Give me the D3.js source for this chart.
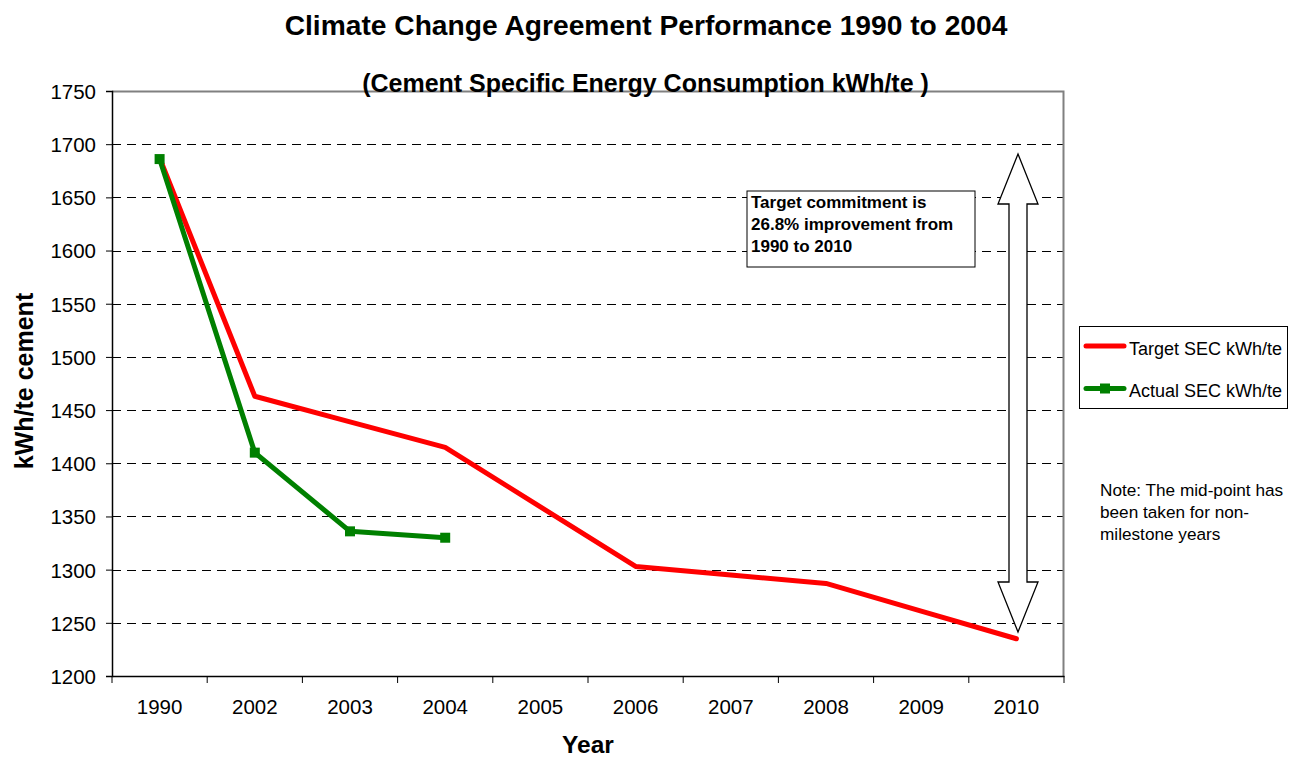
<!DOCTYPE html>
<html>
<head>
<meta charset="utf-8">
<script src="https://cdn.jsdelivr.net/npm/d3@7"></script>
<style>
  body { margin: 0; background: #fff; }
  svg { font-family: "Liberation Sans", Arial, sans-serif; }
</style>
</head>
<body>
<svg id="chart" width="1294" height="757"></svg>
<script>
const years = ["1990", "2002", "2003", "2004", "2005", "2006", "2007", "2008", "2009", "2010"];
const targetSEC = [1687, 1463, 1439, 1415, 1359, 1303, 1295, 1287, 1261, 1235];
const actualSEC = [1686, 1410, 1336, 1330];
const yTicks = [1200, 1250, 1300, 1350, 1400, 1450, 1500, 1550, 1600, 1650, 1700, 1750];

const svg = d3.select("#chart");
const margin = { top: 91, left: 112, right: 1294 - 1064, bottom: 757 - 676 };
const width = 1294 - margin.left - margin.right;
const height = 757 - margin.top - margin.bottom;

const x = d3.scaleBand().domain(years).range([0, width]);
const y = d3.scaleLinear().domain([1200, 1750]).range([height, 0]);

const g = svg.append("g").attr("transform", `translate(${margin.left},${margin.top})`);

// gridlines
g.selectAll("line.grid")
  .data(yTicks.filter((d) => d > 1200 && d < 1750))
  .enter()
  .append("line")
  .attr("x1", 0)
  .attr("x2", width)
  .attr("y1", (d) => Math.round(y(d)) + 0.5)
  .attr("y2", (d) => Math.round(y(d)) + 0.5)
  .style("stroke", "#000")
  .style("stroke-dasharray", "9,6");

// plot border top/right
g.append("path")
  .attr("d", `M0,0.5H${width - 0.5}V${height}`)
  .style("fill", "none")
  .style("stroke", "#808080")
  .style("stroke-width", 2);

// axes
const yAxis = g.append("g")
  .call(d3.axisLeft(y).tickValues(yTicks).tickFormat(d3.format("d")).tickSize(6).tickPadding(10));
const xAxis = g.append("g")
  .attr("transform", `translate(0,${height})`)
  .call(d3.axisBottom(x).tickSize(0).tickPadding(23));

xAxis.selectAll("line.sep")
  .data(years.concat(["end"]))
  .enter()
  .append("line")
  .attr("x1", (d, i) => i * x.bandwidth())
  .attr("x2", (d, i) => i * x.bandwidth())
  .attr("y1", 0)
  .attr("y2", 7)
  .style("stroke", "#000");

[yAxis, xAxis].forEach((ax) => {
  ax.select(".domain").style("stroke", "#000").style("stroke-width", 1.5);
  ax.selectAll(".tick line").style("stroke", "#000");
  ax.selectAll(".tick text")
    .style("font-size", "20.5px")
    .style("fill", "#000")
    .style("font-family", "Liberation Sans, Arial, sans-serif");
});
yAxis.selectAll(".tick text").attr("dy", "0.36em");

const cx = (i) => x(years[i]) + x.bandwidth() / 2;

const line = d3.line()
  .x((d, i) => cx(i))
  .y((d) => y(d));

g.append("path")
  .datum(targetSEC)
  .attr("d", line)
  .style("fill", "none")
  .style("stroke", "#ff0000")
  .style("stroke-width", 5)
  .style("stroke-linejoin", "round")
  .style("stroke-linecap", "round");

g.append("path")
  .datum(actualSEC)
  .attr("d", line)
  .style("fill", "none")
  .style("stroke", "#008000")
  .style("stroke-width", 5)
  .style("stroke-linejoin", "round");

g.selectAll("rect.marker")
  .data(actualSEC)
  .enter()
  .append("rect")
  .attr("x", (d, i) => cx(i) - 5)
  .attr("y", (d) => y(d) - 5)
  .attr("width", 10)
  .attr("height", 10)
  .style("fill", "#008000");

// double headed hollow arrow
const arrowX = 1018 - margin.left;
const arrowTop = 154 - margin.top, arrowBot = 632 - margin.top;
const headH = 50, headW = 20, shaftW = 9;
const arrowPts = [
  [arrowX, arrowTop], [arrowX + headW, arrowTop + headH], [arrowX + shaftW, arrowTop + headH],
  [arrowX + shaftW, arrowBot - headH], [arrowX + headW, arrowBot - headH], [arrowX, arrowBot],
  [arrowX - headW, arrowBot - headH], [arrowX - shaftW, arrowBot - headH],
  [arrowX - shaftW, arrowTop + headH], [arrowX - headW, arrowTop + headH]
];
g.append("path")
  .attr("d", d3.line()(arrowPts) + "Z")
  .style("fill", "#fff")
  .style("stroke", "#000")
  .style("stroke-width", 1.3);

// annotation box
svg.append("rect")
  .attr("x", 747).attr("y", 191).attr("width", 228).attr("height", 76)
  .style("fill", "#fff").style("stroke", "#000").style("stroke-width", 1);
const boxLines = ["Target commitment is", "26.8% improvement from", "1990 to 2010"];
svg.selectAll("text.box")
  .data(boxLines)
  .enter()
  .append("text")
  .attr("x", 751)
  .attr("y", (d, i) => 208 + i * 22)
  .style("font-size", "17px")
  .style("font-weight", "bold")
  .text((d) => d);

// titles
svg.append("text")
  .attr("x", 646).attr("y", 34.5)
  .attr("text-anchor", "middle")
  .style("font-size", "28.2px").style("font-weight", "bold")
  .text("Climate Change Agreement Performance 1990 to 2004");
svg.append("text")
  .attr("x", 645.5).attr("y", 91.5)
  .attr("text-anchor", "middle")
  .style("font-size", "25px").style("font-weight", "bold")
  .text("(Cement Specific Energy Consumption kWh/te )");
svg.append("text")
  .attr("transform", "translate(33,381) rotate(-90)")
  .attr("text-anchor", "middle")
  .style("font-size", "25px").style("font-weight", "bold")
  .text("kWh/te cement");
svg.append("text")
  .attr("x", 588).attr("y", 753)
  .attr("text-anchor", "middle")
  .style("font-size", "24.5px").style("font-weight", "bold")
  .text("Year");

// legend
const legend = svg.append("g");
legend.append("rect")
  .attr("x", 1079.5).attr("y", 326.5).attr("width", 208).attr("height", 82)
  .style("fill", "#fff").style("stroke", "#000");
const legendItems = [
  { label: "Target SEC kWh/te", color: "#ff0000", marker: false },
  { label: "Actual SEC kWh/te", color: "#008000", marker: true }
];
legendItems.forEach((d, i) => {
  const ly = 346 + i * 42.5;
  legend.append("line")
    .attr("x1", 1086).attr("x2", 1124).attr("y1", ly).attr("y2", ly)
    .style("stroke", d.color).style("stroke-width", 5).style("stroke-linecap", "round");
  if (d.marker) {
    legend.append("rect")
      .attr("x", 1100).attr("y", ly - 5).attr("width", 10).attr("height", 10)
      .style("fill", d.color);
  }
  legend.append("text")
    .attr("x", 1129).attr("y", ly + 8.5)
    .style("font-size", "18px")
    .text(d.label);
});

// note
const noteLines = ["Note: The mid-point has", "been taken for non-", "milestone years"];
svg.selectAll("text.note")
  .data(noteLines)
  .enter()
  .append("text")
  .attr("x", 1100)
  .attr("y", (d, i) => 496 + i * 22)
  .style("font-size", "17.2px")
  .text((d) => d);
</script>
</body>
</html>
